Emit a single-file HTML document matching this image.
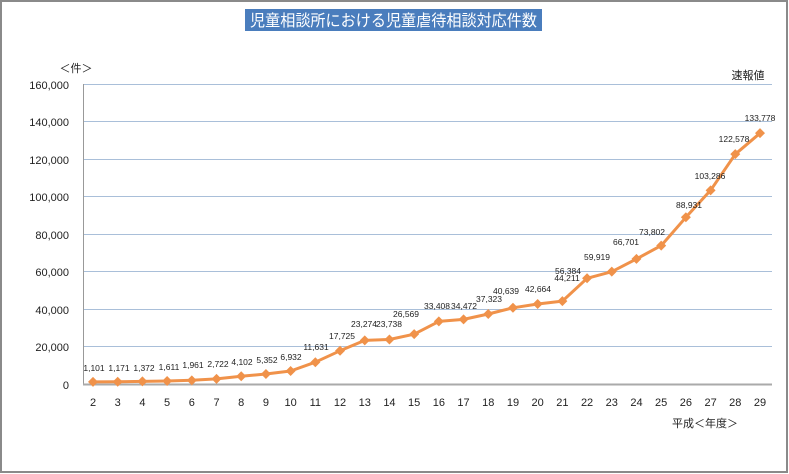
<!DOCTYPE html>
<html><head><meta charset="utf-8"><style>
html,body{margin:0;padding:0;background:#fff;}
svg{display:block;}
text{font-family:"Liberation Sans","Noto Sans CJK JP",sans-serif;fill:#222;}
</style></head><body>
<svg width="789" height="474" viewBox="0 0 789 474" xmlns="http://www.w3.org/2000/svg">
<rect x="1" y="1" width="786" height="471" fill="#fff" stroke="#8a8a8a" stroke-width="2"/>
<rect x="245" y="9" width="297" height="22" fill="#4a7dbd"/>
<text x="250" y="26" font-size="16" textLength="287" lengthAdjust="spacingAndGlyphs" style="fill:#fff">児童相談所における児童虐待相談対応件数</text>
<text x="76" y="72" text-anchor="middle" font-size="11">＜件＞</text>
<text x="748" y="79" text-anchor="middle" font-size="11">速報値</text>
<g stroke="#a9bfd9" stroke-width="1">
<line x1="83" y1="84.5" x2="772" y2="84.5"/>
<line x1="83" y1="121.5" x2="772" y2="121.5"/>
<line x1="83" y1="159.5" x2="772" y2="159.5"/>
<line x1="83" y1="196.5" x2="772" y2="196.5"/>
<line x1="83" y1="234.5" x2="772" y2="234.5"/>
<line x1="83" y1="271.5" x2="772" y2="271.5"/>
<line x1="83" y1="309.5" x2="772" y2="309.5"/>
<line x1="83" y1="346.5" x2="772" y2="346.5"/>
</g>
<line x1="83.5" y1="84" x2="83.5" y2="384" stroke="#999" stroke-width="1"/>
<line x1="83" y1="384.5" x2="772" y2="384.5" stroke="#aaa" stroke-width="2"/>
<g font-size="11" text-anchor="end">
<text x="69" y="89">160,000</text><text x="69" y="126">140,000</text><text x="69" y="164">120,000</text><text x="69" y="201">100,000</text><text x="69" y="239">80,000</text><text x="69" y="276">60,000</text><text x="69" y="314">40,000</text><text x="69" y="351">20,000</text><text x="69" y="389">0</text>
</g>
<g font-size="11" text-anchor="middle" id="xl"></g>
<text x="705" y="427" text-anchor="middle" font-size="11">平成＜年度＞</text>
<polyline id="ln" fill="none" stroke="#f0924a" stroke-width="3" stroke-linejoin="round"/>
<g id="mk" fill="#f0924a"></g>
<g id="lb" font-size="8.5" text-anchor="middle"></g>
</svg>
<script>
var v=[1101,1171,1372,1611,1961,2722,4102,5352,6932,11631,17725,23274,23738,26569,33408,34472,37323,40639,42664,44211,56384,59919,66701,73802,88931,103286,122578,133778];
var L=[[94,368],[119,368],[144,368],[169,367],[193,365],[218,364],[242,362],[267,360],[291,357],[316,347],[342,336],[364,324],[389,324],[406,314],[437,306],[464,306],[489,299],[506,291],[538,289],[567,278],[568,271],[597,257],[626,242],[652,232],[689,205],[710,176],[734,139],[760,118]];
var ns="http://www.w3.org/2000/svg",pts=[],s=(760-93)/27;
function fmt(n){return n.toString().replace(/\B(?=(\d{3})+(?!\d))/g,",");}
for(var i=0;i<28;i++){var x=93+i*s,y=384-v[i]*0.001875;pts.push(x.toFixed(1)+","+y.toFixed(1));
var p=document.createElementNS(ns,"polygon");p.setAttribute("points",x+","+(y-5)+" "+(x+5)+","+y+" "+x+","+(y+5)+" "+(x-5)+","+y);document.getElementById("mk").appendChild(p);
var t=document.createElementNS(ns,"text");t.setAttribute("x",L[i][0]);t.setAttribute("y",L[i][1]+3);t.textContent=fmt(v[i]);document.getElementById("lb").appendChild(t);
var a=document.createElementNS(ns,"text");a.setAttribute("x",x);a.setAttribute("y",406);a.textContent=i+2;document.getElementById("xl").appendChild(a);}
document.getElementById("ln").setAttribute("points",pts.join(" "));
</script>
</body></html>
